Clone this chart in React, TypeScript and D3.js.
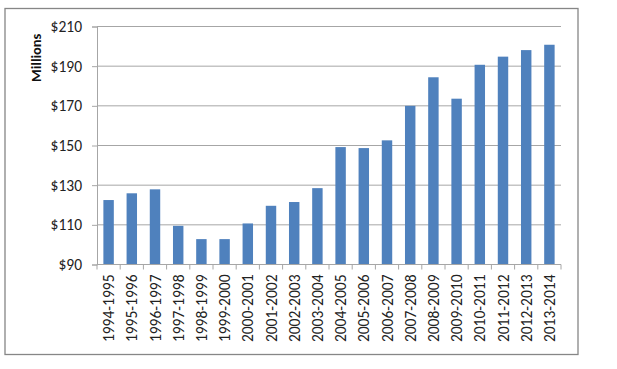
import React, { useRef, useEffect } from 'react';
import * as d3 from 'd3';

// fiscal years and spending (millions of dollars)
const years: string[] = [
    '1994-1995', '1995-1996', '1996-1997', '1997-1998', '1998-1999',
    '1999-2000', '2000-2001', '2001-2002', '2002-2003', '2003-2004',
    '2004-2005', '2005-2006', '2006-2007', '2007-2008', '2008-2009',
    '2009-2010', '2010-2011', '2011-2012', '2012-2013', '2013-2014',
];
const millions: number[] = [
    122.5, 125.9, 127.9, 109.5, 102.8,
    102.8, 110.7, 119.6, 121.5, 128.5,
    149.2, 148.7, 152.6, 170.0, 184.4,
    173.6, 190.7, 194.8, 198.1, 200.8,
];
const yTicks: number[] = [90, 110, 130, 150, 170, 190, 210];

const W = 617;
const H = 369;

const App: React.FC = () => {
    const svgRef = useRef<SVGSVGElement | null>(null);

    useEffect(() => {
        if (!svgRef.current) return;
        const svg = d3.select(svgRef.current);
        svg.selectAll('*').remove();

        const left = 97, right = 561, top = 26.5, bottom = 264.5;
        const font = 'Carlito, Lato, "Open Sans", sans-serif';

        // outer chart frame
        svg.append('rect')
            .attr('x', 5).attr('y', 8.5)
            .attr('width', 573).attr('height', 346)
            .attr('fill', '#fff')
            .attr('stroke', '#868686')
            .attr('stroke-width', 1.3);

        const x = d3.scaleBand<string>()
            .domain(years)
            .range([left, right])
            .paddingInner(0.55)
            .paddingOuter(0.275);

        const y = d3.scaleLinear()
            .domain([90, 210])
            .range([bottom, top]);

        // gridlines
        svg.append('g')
            .selectAll('line')
            .data(yTicks.slice(1))
            .enter().append('line')
            .attr('x1', left).attr('x2', right)
            .attr('y1', d => y(d)).attr('y2', d => y(d))
            .attr('stroke', '#a6a6a6')
            .attr('stroke-width', 1);

        // y axis
        const yAxis = svg.append('g')
            .attr('transform', `translate(${left},0)`)
            .call(d3.axisLeft(y).tickValues(yTicks).tickSize(5).tickPadding(10)
                .tickFormat(d => `$${d}`));
        yAxis.select('.domain').attr('stroke', '#a6a6a6');
        yAxis.selectAll('.tick line').attr('stroke', '#a6a6a6');
        yAxis.selectAll('text')
            .attr('font-family', font)
            .attr('font-size', 15.5)
            .attr('fill', '#222');

        // bars
        svg.append('g')
            .selectAll('rect')
            .data(millions)
            .enter().append('rect')
            .attr('x', (d, i) => x(years[i]) as number)
            .attr('y', d => y(d))
            .attr('width', x.bandwidth())
            .attr('height', d => bottom - y(d))
            .attr('fill', '#4f81bd');

        // x axis baseline and ticks at band boundaries
        const step = (right - left) / years.length;
        const xAxis = svg.append('g');
        xAxis.append('line')
            .attr('x1', left).attr('x2', right)
            .attr('y1', bottom).attr('y2', bottom)
            .attr('stroke', '#a6a6a6');
        xAxis.selectAll('.xt')
            .data(d3.range(years.length + 1))
            .enter().append('line')
            .attr('x1', i => left + i * step).attr('x2', i => left + i * step)
            .attr('y1', bottom).attr('y2', bottom + 5)
            .attr('stroke', '#a6a6a6');

        // rotated category labels
        svg.append('g')
            .selectAll('text')
            .data(years)
            .enter().append('text')
            .attr('transform', d => `translate(${(x(d) as number) + x.bandwidth() / 2 + 5.5},${bottom + 10}) rotate(-90)`)
            .attr('text-anchor', 'end')
            .attr('font-family', font)
            .attr('font-size', 15.5)
            .attr('fill', '#222')
            .text(d => d);

        // axis title
        svg.append('text')
            .attr('transform', `translate(41,${(top + 83) / 2 + 3}) rotate(-90)`)
            .attr('text-anchor', 'middle')
            .attr('font-family', font)
            .attr('font-size', 14.5)
            .attr('font-weight', 'bold')
            .attr('fill', '#111')
            .text('Millions');
    }, []);

    return (
        <svg ref={svgRef} width={W} height={H}
            style={{ position: 'absolute', left: 0, top: 0, background: '#fff' }} />
    );
};

export default App;
